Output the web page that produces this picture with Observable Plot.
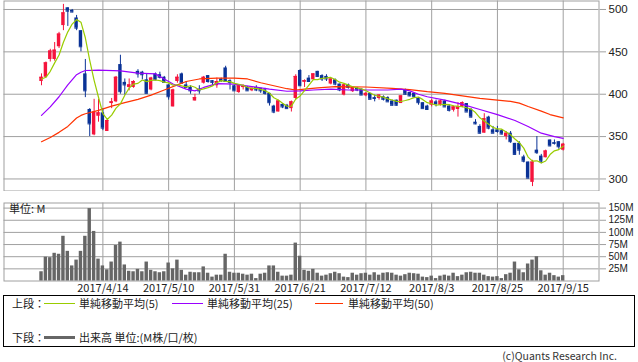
<!DOCTYPE html>
<html><head><meta charset="utf-8">
<script src="https://cdn.jsdelivr.net/npm/d3@7"></script>
<script src="https://cdn.jsdelivr.net/npm/@observablehq/plot@0.6"></script>
<style>
body{margin:0;background:#fff;font-family:"Noto Sans CJK JP","Noto Sans",sans-serif;}
#wrap{position:relative;width:638px;height:362px;overflow:hidden;background:#fff;}
#price{position:absolute;left:0;top:0;}
#vol{position:absolute;left:0;top:196px;}
#legend{position:absolute;left:3px;top:295px;width:632px;height:52px;box-sizing:border-box;border:1px solid #000;font-size:11px;color:#222;}
#legend span.t{position:absolute;line-height:12px;white-space:nowrap;}
#legend span.l{position:absolute;display:block;}
#copy{position:absolute;right:21px;top:349px;font-size:10.5px;line-height:13px;color:#333;white-space:nowrap;}
</style></head>
<body><div id="wrap"><div id="price"></div><div id="vol"></div><div id="legend"></div><div id="copy">(c)Quants Research Inc.</div></div>
<script>
const dates = ["3/27","3/28","3/29","3/30","3/31",
"4/3","4/4","4/5","4/6","4/7","4/10","4/11","4/12","4/13","4/14","4/17","4/18","4/19","4/20","4/21","4/24","4/25","4/26","4/27","4/28",
"5/1","5/2","5/8","5/9","5/10","5/11","5/12","5/15","5/16","5/17","5/18","5/19","5/22","5/23","5/24","5/25","5/26","5/29","5/30","5/31",
"6/1","6/2","6/5","6/6","6/7","6/8","6/9","6/12","6/13","6/14","6/15","6/16","6/19","6/20","6/21","6/22","6/23","6/26","6/27","6/28","6/29","6/30",
"7/3","7/4","7/5","7/6","7/7","7/10","7/11","7/12","7/13","7/14","7/18","7/19","7/20","7/21","7/24","7/25","7/26","7/27","7/28","7/31",
"8/1","8/2","8/3","8/4","8/7","8/8","8/9","8/10","8/14","8/15","8/16","8/17","8/18","8/21","8/22","8/23","8/24","8/25","8/28","8/29","8/30","8/31",
"9/1","9/4","9/5","9/6","9/7","9/8","9/11","9/12","9/13","9/14","9/15"];

const open = [415,420,441,441,456,481,502,499,490,475,
424,382,352,374,378,356,389,391,435,414,
408,408,427,426,417,405,424,423,420,411,
385,415,424,411,408,392,406,413,422,416,
410,418,431,416,410,402,408,408,404,408,
407,405,401,386,379,388,387,383,395,428,
414,419,417,427,422,421,412,417,412,399,
411,403,407,406,398,401,396,395,397,396,
392,393,389,405,402,401,395,390,386,387,
391,387,392,386,381,382,385,389,382,367,
362,354,373,358,358,357,350,354,342,342,
326,320,296,334,327,325,346,343,344,334];

const high = [424,438,453,461,473,506,502,500,493,475,
441,383,394,394,383,371,395,421,446,418,
418,416,429,427,424,420,425,426,421,411,
406,423,425,415,410,400,410,421,422,416,
419,419,433,417,410,411,411,409,407,410,
407,407,401,387,393,389,388,392,423,429,
417,422,424,427,423,423,418,418,412,412,
412,409,408,406,402,401,399,399,398,397,
393,393,398,406,402,401,396,390,387,394,
393,393,393,387,386,390,391,389,383,370,
364,377,374,362,362,358,356,356,342,344,
328,320,322,350,329,334,346,346,344,342];

const low = [410,419,438,439,454,475,480,496,475,450,
396,350,351,367,357,356,383,390,400,399,
404,407,419,417,401,404,416,418,413,393,
385,413,412,408,400,392,400,412,413,410,
407,414,414,405,404,401,405,404,403,403,
401,399,386,377,379,383,383,379,393,409,
408,414,417,420,415,415,411,410,403,398,
406,402,403,399,397,394,391,393,392,391,
386,386,389,399,397,396,387,383,381,385,
385,386,385,379,379,373,384,379,372,364,
353,354,358,354,354,352,346,342,328,328,
319,300,291,329,318,325,338,340,335,333];

const close = [420,437,451,452,471,496,498,497,478,456,
404,365,379,378,360,369,391,420,403,411,
411,415,424,423,401,419,417,420,414,397,
405,420,413,408,404,396,404,420,415,414,
415,416,415,414,404,410,409,404,407,405,
404,401,390,379,392,385,383,391,421,410,
416,415,424,421,418,418,418,412,405,411,
408,408,405,399,401,394,395,399,394,391,
387,387,398,400,398,397,390,383,382,392,
389,392,385,381,385,385,390,379,373,365,
354,371,360,354,356,353,354,344,329,334,
321,301,320,331,321,333,339,342,338,341];

const volume = [19,49,48,57,55,92,61,31,43,61,
92,149,102,45,31,23,39,73,80,33,
20,19,24,19,39,22,19,17,19,37,
25,43,22,12,18,17,17,29,16,8,
12,12,55,18,16,16,14,12,14,5,
14,16,31,31,18,10,10,12,78,51,
22,20,24,16,10,12,15,18,15,8,
7,16,12,15,16,12,17,12,16,17,
16,12,10,13,16,15,14,8,7,10,
5,10,12,10,16,9,12,17,18,16,
16,12,9,8,9,5,13,16,39,23,
17,35,43,50,21,12,16,11,8,11];

const ma5 = [418,420,427,437,446.2,461.4,473.6,482.8,488,485,
466.6,440,416.4,396.4,377.2,370.2,375.4,383.6,388.6,398.8,
407.2,412,412.8,416.8,414.8,416.4,416.8,416,414.2,413.4,
410.6,411.2,409.8,408.6,410,408.2,405,406.4,407.8,409.8,
413.6,416,415,414.8,412.8,411.8,410.4,408.2,406.8,407,
405.8,404.2,401.4,395.8,393.2,389.4,385.8,386,394.4,398,
404.2,410.6,417.2,417.2,418.8,419.2,419.8,417.4,414.2,412.8,
410.8,408.8,407.4,406.2,404.2,401.4,398.8,397.6,396.6,394.6,
393.2,391.6,391.4,392.6,394,396,396.6,393.6,390,388.8,
387.2,387.6,388,387.8,386.4,385.6,385.2,384,382.4,378.4,
372.2,368.4,364.6,360.8,359,358.8,355.4,352.2,347.2,342.8,
336.4,325.8,321,321.4,318.8,321.2,328.8,333.2,334.6,338.6];

const ma25Dates = ["3/27","3/29","3/31","4/4","4/6","4/7","4/10","4/13","4/20","4/26","5/2","5/9","5/11","5/16","5/18","5/22","5/25","5/31","6/6","6/12","6/16","6/21","6/26","6/30","7/6","7/13","7/20","7/25","7/27","7/31","8/2","8/8","8/15","8/21","8/25","8/31","9/5","9/8","9/13","9/15"];
const ma25Values = [375,385,397,411,423,426,428,428.5,427.5,425,424,418,412,406,404,408,412.5,412,409,406,403.5,404,405,406,405,405,405,406,404,400,397,393,388,382,376,369,362,354,350,348];

const ma50Dates = ["3/27","3/29","3/31","4/4","4/6","4/7","4/10","4/13","4/18","4/21","4/26","5/1","5/9","5/12","5/16","5/19","5/25","5/31","6/5","6/8","6/13","6/16","6/20","6/22","6/27","7/3","7/12","7/21","7/27","8/2","8/8","8/15","8/21","8/25","8/30","9/1","9/5","9/8","9/12","9/15"];
const ma50Values = [344,349,355,362,372,375,377,381,386,390,394,399,405,411,415,418,419,419,418,413.5,410,406.5,405,406,407.5,409,408.5,407,405.5,403,401,398,395,393,391.5,389.5,385.5,380,376,372];

const tickDates = ["4/14","5/10","5/31","6/21","7/12","8/3","8/25","9/15"];
const tickLabels = ["2017/4/14","2017/5/10","2017/5/31","2017/6/21","2017/7/12","2017/8/3","2017/8/25","2017/9/15"];
const priceTicks = [300,350,400,450,500];
const volTicks = [25,50,75,100,125,150];

const legendItems = ["単純移動平均(5)","単純移動平均(25)","単純移動平均(50)"];
const volLegend = "出来高 単位:(M株/口/枚)";

// ---- styles
const RED = "#f5143c", BLUE = "#0a3296", GREEN = "#99cc00", PURPLE = "#9a00ff", ORANGE = "#ff3300", GRID = "#a0a0a0", VOL = "#666666";
const FONT = '"Noto Sans CJK JP","Noto Sans",sans-serif';
const NUMFONT = '"Liberation Sans",Arial,sans-serif';

const candles = dates.map((d, i) => ({date: d, open: open[i], high: high[i], low: low[i], close: close[i], up: close[i] >= open[i], vol: volume[i]}));
const ma5Data = dates.map((d, i) => ({date: d, v: ma5[i]}));
const ma25Data = ma25Dates.map((d, i) => ({date: d, v: ma25Values[i]}));
const ma50Data = ma50Dates.map((d, i) => ({date: d, v: ma50Values[i]}));
const labelOf = new Map(tickDates.map((d, i) => [d, tickLabels[i]]));

const xOpts = {type: "band", domain: dates, range: [39.3, 564.4], paddingInner: 0.22, paddingOuter: 0, round: false};
const colorOf = d => d.up ? RED : BLUE;

const price = Plot.plot({
  width: 638, height: 191,
  marginLeft: 3.5, marginRight: 39.5, marginTop: 0.5, marginBottom: 0.5,
  style: {fontFamily: FONT, fontSize: "11px", background: "transparent", color: "#222"},
  x: {...xOpts, axis: null, label: null},
  y: {domain: [285.8, 510], range: [190.5, 0.5], axis: null, label: null},
  marks: [
    Plot.gridX(tickDates, {stroke: GRID, strokeOpacity: 1}),
    Plot.gridY(priceTicks, {stroke: GRID, strokeOpacity: 1}),
    Plot.frame({stroke: GRID}),
    Plot.axisY(priceTicks, {anchor: "right", label: null, tickSize: 6.5, tickPadding: 3, stroke: GRID, fill: "#222", fontSize: 11.5, fontFamily: NUMFONT}),
    Plot.ruleX(candles, {x: "date", y1: "low", y2: "high", stroke: colorOf, strokeWidth: 1}),
    Plot.barY(candles, {x: "date", y1: "open", y2: "close", fill: colorOf}),
    Plot.tickY(candles, {x: "date", y: "close", stroke: colorOf, strokeWidth: 1}),
    Plot.line(ma50Data, {x: "date", y: "v", stroke: ORANGE, strokeWidth: 1.2}),
    Plot.line(ma25Data, {x: "date", y: "v", stroke: PURPLE, strokeWidth: 1.2}),
    Plot.line(ma5Data, {x: "date", y: "v", stroke: GREEN, strokeWidth: 1.2})
  ]
});
document.getElementById("price").appendChild(price);

const vol = Plot.plot({
  width: 638, height: 100,
  marginLeft: 3.5, marginRight: 39.5, marginTop: 6.5, marginBottom: 15.5,
  style: {fontFamily: FONT, fontSize: "11px", background: "transparent", color: "#222"},
  x: {...xOpts, axis: null, label: null},
  y: {domain: [0, 160.5], axis: null, label: null},
  marks: [
    Plot.gridX(tickDates, {stroke: GRID, strokeOpacity: 1}),
    Plot.gridY(volTicks, {stroke: GRID, strokeOpacity: 1}),
    Plot.frame({stroke: GRID}),
    Plot.axisY(volTicks, {anchor: "right", label: null, tickSize: 6.5, tickPadding: 3, stroke: GRID, fill: "#222", fontSize: 10, fontFamily: NUMFONT, tickFormat: d => d + "M"}),
    Plot.axisX(tickDates, {anchor: "bottom", label: null, tickSize: 0, tickPadding: 3, fill: "#222", fontSize: 11, tickFormat: d => labelOf.get(d)}),
    Plot.barY(candles, {x: "date", y: "vol", fill: VOL}),
    Plot.text(["単位: M"], {frameAnchor: "top-left", dx: 5, dy: 2, textAnchor: "start", lineAnchor: "top", fill: "#222", fontSize: 11})
  ]
});
document.getElementById("vol").appendChild(vol);

// ---- legend (HTML)
const lg = document.getElementById("legend");
function addText(txt, x, y) { const s = document.createElement("span"); s.className = "t"; s.textContent = txt; s.style.left = x + "px"; s.style.top = y + "px"; lg.appendChild(s); }
function addLine(color, x, y, w, h) { const s = document.createElement("span"); s.className = "l"; s.style.left = x + "px"; s.style.top = y + "px"; s.style.width = w + "px"; s.style.height = h + "px"; s.style.background = color; lg.appendChild(s); }
addText("上段：", 8, 1);
addLine(GREEN, 39.5, 7, 31, 1);
addText(legendItems[0], 75, 1);
addLine(PURPLE, 167.5, 7, 31, 1);
addText(legendItems[1], 203, 1);
addLine(ORANGE, 310.5, 7, 28, 1);
addText(legendItems[2], 344, 1);
addText("下段：", 8, 35);
addLine(VOL, 39.5, 40, 31, 3);
addText(volLegend, 75, 35);
</script></body></html>
